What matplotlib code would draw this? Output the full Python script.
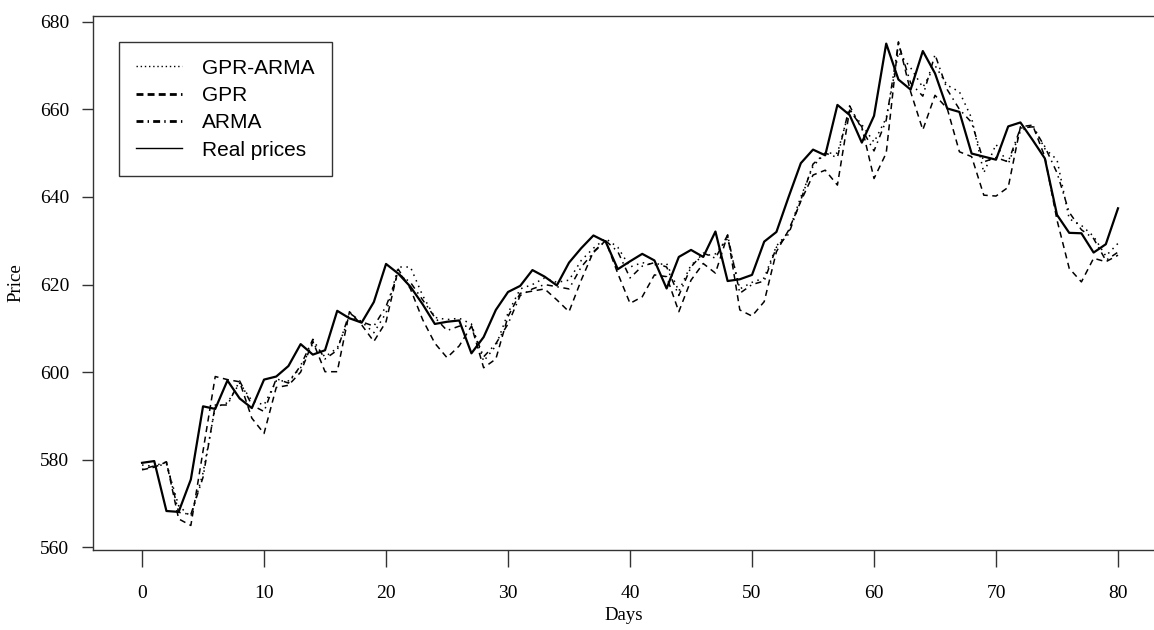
import numpy as np
import matplotlib; matplotlib.use("Agg")
import matplotlib.pyplot as plt
from matplotlib.lines import Line2D

# --- Data (days 0..80) ---
days = np.arange(81)

real_prices = [579.3, 579.7, 568.3, 568.1, 575.5, 592.2, 591.6, 598.1, 594.0, 591.8,
               598.3, 599.0, 601.4, 606.4, 604.0, 605.0, 614.0, 612.3, 611.3, 616.0,
               624.7, 622.5, 619.5, 615.5, 611.0, 611.5, 611.8, 604.3, 608.0, 614.2,
               618.3, 619.7, 623.3, 621.8, 619.8, 625.0, 628.3, 631.2, 629.8, 623.5,
               625.3, 627.0, 625.5, 619.1, 626.3, 627.9, 626.3, 632.1, 620.8, 621.2,
               622.2, 629.8, 632.0, 640.0, 647.7, 650.8, 649.5, 661.0, 658.7, 652.4,
               658.5, 675.0, 666.8, 664.5, 673.3, 668.2, 660.2, 659.4, 649.9, 649.2,
               648.5, 656.1, 657.0, 653.0, 648.8, 635.9, 631.8, 631.7, 627.3, 629.2,
               637.4]

gpr = [577.7, 578.3, 579.5, 566.5, 565.0, 582.0, 599.0, 598.3, 597.8, 589.5,
       586.0, 596.5, 597.0, 600.0, 607.0, 600.1, 600.1, 613.8, 610.8, 607.0,
       611.5, 623.5, 619.0, 612.0, 606.6, 603.3, 606.0, 610.5, 601.0, 603.0,
       612.7, 618.0, 618.5, 619.0, 616.5, 613.8, 621.0, 627.5, 630.0, 622.5,
       615.7, 617.2, 622.2, 621.8, 613.8, 621.0, 624.8, 622.6, 631.3, 614.2,
       612.8, 616.1, 627.5, 632.4, 639.0, 645.0, 646.1, 642.7, 659.8, 656.0,
       644.2, 650.0, 675.4, 664.0, 655.3, 663.2, 660.2, 650.3, 649.2, 640.4,
       640.2, 642.2, 656.0, 656.4, 649.2, 634.7, 623.7, 620.6, 626.0, 625.2,
       626.7]

gpr_arma = [578.8, 578.5, 579.0, 569.5, 567.0, 577.0, 592.0, 593.0, 597.5, 593.5,
            592.5, 598.0, 598.0, 601.0, 606.5, 603.5, 605.5, 612.5, 611.5, 609.0,
            613.5, 624.0, 624.0, 617.5, 612.5, 612.0, 612.3, 611.0, 602.5, 606.0,
            613.5, 619.0, 620.0, 621.5, 620.5, 621.0, 625.5, 628.3, 630.5, 628.5,
            624.0, 625.0, 624.5, 624.8, 618.5, 624.5, 626.5, 627.0, 630.5, 619.0,
            620.5, 621.5, 628.8, 632.0, 640.0, 647.0, 650.0, 650.0, 660.0, 656.5,
            652.5, 658.0, 673.0, 669.5, 665.0, 670.0, 665.5, 664.0, 658.0, 645.5,
            652.0, 647.5, 655.0, 656.5, 651.0, 648.5, 635.0, 633.5, 631.0, 626.5,
            629.4]

arma = [577.8, 578.6, 579.5, 568.0, 567.5, 576.0, 592.5, 592.5, 598.0, 592.5,
        591.0, 598.5, 597.5, 601.5, 607.5, 603.0, 605.0, 613.5, 611.5, 610.5,
        615.0, 622.5, 620.5, 616.5, 612.5, 609.5, 610.5, 610.5, 603.5, 606.5,
        611.0, 617.5, 619.0, 620.0, 619.5, 619.0, 624.0, 627.3, 630.0, 627.5,
        621.5, 624.2, 625.0, 624.0, 617.5, 624.0, 627.2, 626.0, 631.3, 618.0,
        620.0, 620.8, 628.5, 631.5, 639.3, 647.5, 650.0, 649.0, 660.8, 655.5,
        650.5, 657.5, 675.0, 666.0, 663.0, 672.5, 664.5, 660.0, 657.0, 648.0,
        649.0, 648.0, 655.7, 656.0, 651.5, 645.5, 636.5, 632.5, 630.5, 625.5,
        627.4]

x_ticks = [0, 10, 20, 30, 40, 50, 60, 70, 80]
y_ticks = [560, 580, 600, 620, 640, 660, 680]

serif = "Liberation Serif"
sans = "Liberation Sans"

DOT = (0, (1, 3))
DASH = (0, (4, 3))
DOTDASH = (0, (1, 3, 4, 3))

fig = plt.figure(figsize=(11.54, 6.30), dpi=100)
ax = fig.add_axes([93 / 1154, 80 / 630, 1 - 93 / 1154, 534 / 630])

ax.plot(days, gpr_arma, color="black", lw=1.1, linestyle=DOT)
ax.plot(days, gpr, color="black", lw=1.1, linestyle=DASH)
ax.plot(days, arma, color="black", lw=1.1, linestyle=DOTDASH)
ax.plot(days, real_prices, color="black", lw=1.6)

ax.set_xlim(-4.02, 82.95)
ax.set_ylim(559.4, 681.3)
ax.set_xticks(x_ticks)
ax.set_yticks(y_ticks)

for side in ["top", "bottom", "left"]:
    ax.spines[side].set_color("#333333")
    ax.spines[side].set_linewidth(1.0)
ax.spines["right"].set_visible(False)

ax.tick_params(axis="x", length=12, width=1.0, pad=13, colors="#333333",
               labelcolor="black", labelsize=14)
ax.tick_params(axis="y", length=8, width=1.0, pad=9, colors="#333333",
               labelcolor="black", labelsize=14)
for lbl in ax.get_xticklabels() + ax.get_yticklabels():
    lbl.set_fontfamily(serif)

ax.set_xlabel("Days", fontsize=13.5, family=serif, labelpad=4)
ax.set_ylabel("Price", fontsize=13.5, family=serif, labelpad=11)

# legend keys drawn the way the original shows them
handles = [
    Line2D([], [], color="black", lw=1.0, linestyle=(0, (1, 2))),
    Line2D([], [], color="black", lw=2.0, linestyle=(0, (2.5, 1.5))),
    Line2D([], [], color="black", lw=2.0, linestyle=(0, (2.5, 1.5, 0.5, 1.5))),
    Line2D([], [], color="black", lw=1.0),
]
labels = ["GPR-ARMA", "GPR", "ARMA", "Real prices"]
leg = ax.legend(handles, labels, loc="upper left", bbox_to_anchor=(26 / 1061, 1 - 26 / 534),
                prop={"family": sans, "size": 15}, frameon=True, fancybox=False,
                handlelength=2.2, handletextpad=1.0, labelspacing=0.4,
                borderpad=0.8, borderaxespad=0)
leg.get_frame().set_edgecolor("black")
leg.get_frame().set_linewidth(1.0)

fig.savefig("out.png", dpi=100, facecolor="white")
